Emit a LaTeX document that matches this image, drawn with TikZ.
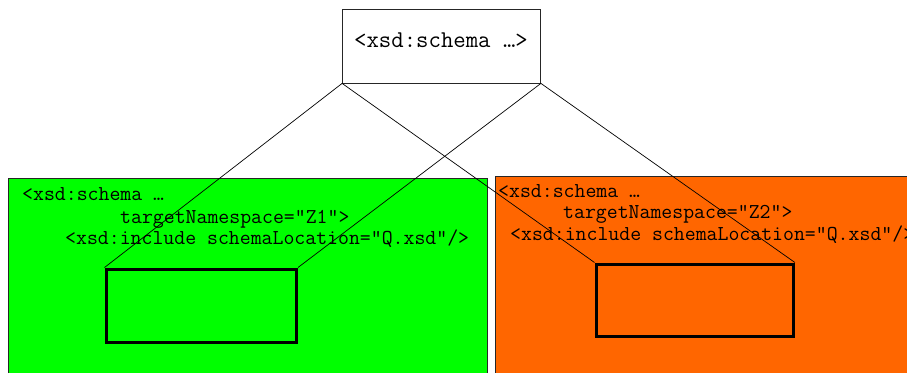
\documentclass[tikz,border=0pt]{standalone}
\usepackage{fontspec}
\definecolor{schemagreen}{HTML}{00FF00}
\definecolor{schemaorange}{HTML}{FF6600}
\tikzset{
  panel/.style={draw=black!85, line width=0.8pt, anchor=north west, inner sep=0pt},
  inner/.style={draw=black, line width=3pt, anchor=north west, inner sep=0pt},
  code/.style={anchor=base west, inner sep=0pt, font=\fontsize{21.2}{24}\selectfont\ttfamily},
  link/.style={draw=black, line width=0.7pt}
}
\begin{document}
\begin{tikzpicture}[x=1pt,y=-1pt]
\useasboundingbox (0,0) rectangle (907,372);
\clip (0,0) rectangle (907,372);
\fill[white] (0,0) rectangle (907,372);

% the including schema at the top
\node[draw=black!85, line width=0.8pt, minimum width=198pt, minimum height=74pt, inner sep=0pt] (root) at (441.5,46) {};
\node[anchor=base, inner sep=0pt, font=\fontsize{24.1}{28}\selectfont\ttfamily] (roottext) at (441,47.5) {<xsd:schema …>};

% the two included schemas
\node[panel, fill=schemagreen, minimum width=479pt, minimum height=210pt] (left) at (8,178) {};
\node[panel, fill=schemaorange, minimum width=420pt, minimum height=210pt] (right) at (495,176) {};

\node[code] (l1) at (22,200.5) {<xsd:schema …};
\node[code] (l2) at (120,223) {targetNamespace="Z1">};
\node[code] (l3) at (65,244) {<xsd:include schemaLocation="Q.xsd"/>};

\node[code] (r1) at (498,197.5) {<xsd:schema …};
\node[code] (r2) at (563,218) {targetNamespace="Z2">};
\node[code] (r3) at (510,240) {<xsd:include schemaLocation="Q.xsd"/>};

% included Q.xsd content
\node[inner, minimum width=190.5pt, minimum height=73pt] (qleft) at (104.5,267.5) {};
\node[inner, minimum width=197.4pt, minimum height=72.4pt] (qright) at (594.5,262.5) {};

% connectors
\draw[link] (root.south west) -- (qleft.north west);
\draw[link] (root.south west) -- (qright.north west);
\draw[link] (root.south east) -- (qleft.north east);
\draw[link] (root.south east) -- (qright.north east);
\end{tikzpicture}
\end{document}
